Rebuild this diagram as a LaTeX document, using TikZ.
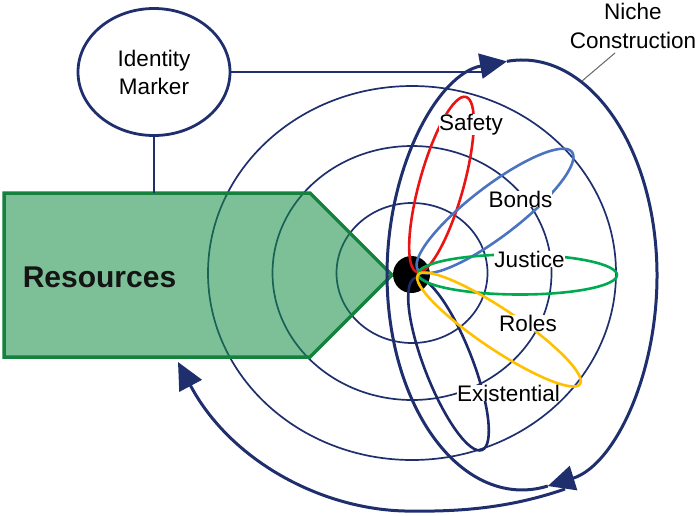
\documentclass[tikz,border=0pt]{standalone}
\usepackage{fontspec}
\setmainfont{Liberation Sans}
\usetikzlibrary{arrows.meta,shapes.geometric,calc}
\definecolor{navy}{RGB}{31,47,110}
\definecolor{petalnavy}{RGB}{28,42,105}
\definecolor{safetyred}{RGB}{235,20,20}
\definecolor{bondsblue}{RGB}{74,116,192}
\definecolor{justicegreen}{RGB}{0,170,80}
\definecolor{rolesyellow}{RGB}{255,192,0}
\definecolor{resgreen}{RGB}{19,140,68}
\definecolor{resborder}{RGB}{20,130,60}
\tikzset{
  ring/.style={draw=navy, line width=1.7pt},
  bigloop/.style={draw=navy, line width=3pt},
  petal/.style={line width=2.6pt},
  lbl/.style={font=\fontsize{22.5}{27}\selectfont, fill=white, inner sep=0pt, anchor=base},
  bigtip/.style={-{Triangle[length=27pt,width=25pt]}},
}
\begin{document}
\begin{tikzpicture}[x=1pt,y=1pt,yscale=-1]
\useasboundingbox (0,0) rectangle (700,515);

% concentric rings
\draw[ring] (412,273) ellipse [x radius=75.5, y radius=70];
\draw[ring] (412,273) ellipse [x radius=139.5, y radius=127];
\draw[ring] (412,273) ellipse [x radius=204, y radius=187];

% Resources block
\draw[fill=resgreen, fill opacity=0.55, draw=resborder, line width=3.5pt, line join=miter]
  (4,193) coordinate (rtl) -- (310,193) -- (392,275) coordinate (rtip) -- (310,357) -- (4,357) -- cycle;
\coordinate (rtop) at (154,193);
\node[font=\fontsize{30}{36}\selectfont\bfseries, anchor=base, text=black!92] (res) at (99.5,287) {Resources};

% Identity marker
\node[ellipse, draw=navy, line width=2.8pt, minimum width=152pt, minimum height=127pt, inner sep=0pt,
  align=center, font=\fontsize{22.5}{28}\selectfont] (im) at (154,72) {Identity\\Marker};
\coordinate (toparrow) at (482,72);
\draw[navy, line width=2.8pt] (im.south) -- (rtop);
\draw[navy, line width=2.8pt] (im.east) -- (toparrow);

% Niche construction loop
\coordinate (loopleft) at (387,275);
\coordinate (looptop) at (506.95,61.34);
\coordinate (loopbot) at (547.8,486.0);
\draw[bigloop, bigtip] (loopleft) arc[start angle=180, end angle=263.6, x radius=135, y radius=215];
\draw[bigloop, bigtip] (looptop) arc[start angle=263.6, end angle=439, x radius=135, y radius=215];
\draw[bigloop] (loopbot) arc[start angle=79, end angle=180, x radius=135, y radius=215];

% return arc to resources
\coordinate (retstart) at (565,489);
\coordinate (retend) at (178,362);
\draw[bigloop, bigtip] (retstart) .. controls (510,508) and (460,512) .. (405,511)
  .. controls (320,509) and (230,460) .. (retend);

% centre dot
\node[circle, fill=black, minimum size=37pt, inner sep=0pt] (dot) at (411.5,274.5) {};

% petals
\draw[petal, draw=petalnavy, rotate around={68.7:(448.5,364)}] (448.5,364) ellipse [x radius=92.3, y radius=24];
\draw[petal, draw=safetyred, rotate around={-74.4:(441.5,184.5)}] (441.5,184.5) ellipse [x radius=90.9, y radius=22];
\draw[petal, draw=bondsblue, rotate around={-37.5:(495,211)}] (495,211) ellipse [x radius=97, y radius=25];
\draw[petal, draw=justicegreen, rotate around={0.3:(517.5,274.5)}] (517.5,274.5) ellipse [x radius=99.5, y radius=20];
\draw[petal, draw=rolesyellow, rotate around={33.9:(499,329.5)}] (499,329.5) ellipse [x radius=97.7, y radius=20];

% labels
\node[lbl] (safety) at (471,130) {Safety};
\node[lbl] (bonds) at (520.5,207) {Bonds};
\node[lbl] (justice) at (529.5,267) {Justice};
\node[lbl] (roles) at (528,331) {Roles};
\node[lbl] (exist) at (508.5,401) {Existential};

% niche construction label
\node[font=\fontsize{22.5}{29}\selectfont, align=center, inner sep=0pt] (nc) at (633,26) {Niche\\Construction};
\coordinate (ncpt) at (582,81);
\draw[black!60, line width=1pt] ($(nc.south)+(-18,4)$) -- (ncpt);
\end{tikzpicture}
\end{document}
